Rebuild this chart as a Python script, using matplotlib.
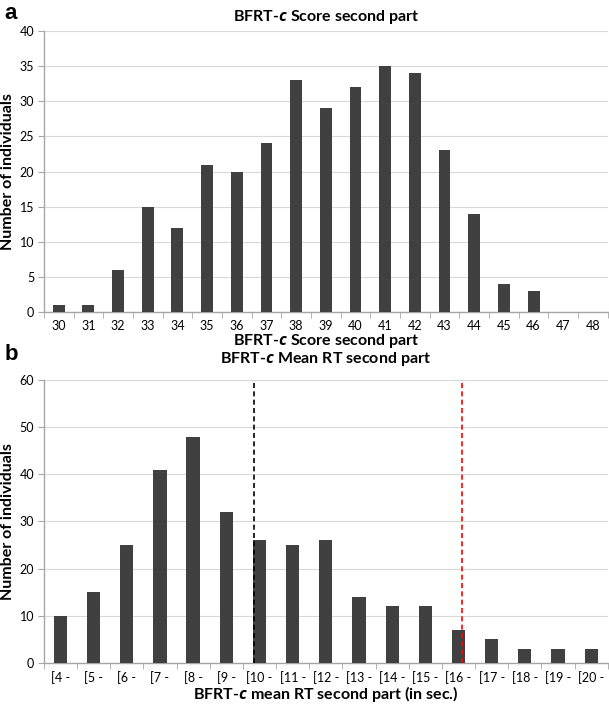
import numpy as np
import matplotlib.pyplot as plt

plt.rcParams['font.family'] = ['Lato', 'DejaVu Sans']
plt.rcParams['mathtext.fontset'] = 'custom'
plt.rcParams['mathtext.it'] = 'Open Sans:italic:bold'
plt.rcParams['mathtext.rm'] = 'Lato:bold'
plt.rcParams['mathtext.bf'] = 'Lato:bold'

# panel a data
scores = [str(s) for s in range(30, 49)]
score_counts = [1, 1, 6, 15, 12, 21, 20, 24, 33, 29, 32, 35, 34, 23, 14, 4, 3, 0, 0]

# panel b data
rt_bins = ["[%d -" % s for s in range(4, 21)]
rt_counts = [10, 15, 25, 41, 48, 32, 26, 25, 26, 14, 12, 12, 7, 5, 3, 3, 3]
mean_line = 5.85   # black dashed line, in category units
cutoff_line = 12.1  # red dashed line

bar_col = '#404040'
spine_col = '#a6a6a6'
grid_col = '#d9d9d9'
lab_fs = 11.5


def style_axes(ax, n, ymax, step):
  ax.set_xlim(-0.5, n - 0.5)
  ax.set_ylim(0, ymax)
  ax.set_yticks(np.arange(0, ymax + 1, step))
  ax.yaxis.grid(True, color=grid_col, lw=0.8)
  ax.set_axisbelow(True)
  for s in ['top', 'right']:
    ax.spines[s].set_visible(False)
  for s in ['left', 'bottom']:
    ax.spines[s].set_color(spine_col)
    ax.spines[s].set_linewidth(1.0)
  ax.set_xticks(np.arange(n))
  ax.set_xticks(np.arange(-0.5, n, 1.0), minor=True)
  ax.tick_params(axis='x', which='major', length=0, labelsize=9, pad=6)
  ax.tick_params(axis='x', which='minor', length=4, color=spine_col, direction='out')
  ax.tick_params(axis='y', length=4, color=spine_col, labelsize=9, pad=3)


fig = plt.figure(figsize=(6.09, 7.05), dpi=100)

# panel a
ax1 = fig.add_axes([0.072, 0.5574, 0.926, 0.3986])
ax1.bar(np.arange(len(scores)), score_counts, width=0.4, color=bar_col, zorder=3)
style_axes(ax1, len(scores), 40, 5)
ax1.set_xticklabels(scores)
ax1.set_title(r"BFRT-$\mathit{c}$ Score second part", fontsize=lab_fs, fontweight='bold', pad=7)
ax1.set_xlabel(r"BFRT-$\mathit{c}$ Score second part", fontsize=lab_fs, fontweight='bold', labelpad=0)
ax1.set_ylabel("Number of individuals", fontsize=lab_fs, fontweight='bold', labelpad=3)
fig.text(0.008, 0.981, "a", fontsize=16, fontweight='bold', family='Liberation Sans', va='center')

# panel b
ax2 = fig.add_axes([0.072, 0.0596, 0.926, 0.4014])
ax2.bar(np.arange(len(rt_bins)), rt_counts, width=0.4, color=bar_col, zorder=3)
style_axes(ax2, len(rt_bins), 60, 10)
ax2.set_xticklabels(rt_bins)
ax2.axvline(mean_line, color='black', ls=(0, (3, 2)), lw=1.2, zorder=4)
ax2.axvline(cutoff_line, color='red', ls=(0, (3, 2)), lw=1.2, zorder=4)
ax2.set_title(r"BFRT-$\mathit{c}$ Mean RT second part", fontsize=lab_fs, fontweight='bold', pad=12)
ax2.set_xlabel(r"BFRT-$\mathit{c}$ mean RT second part (in sec.)", fontsize=lab_fs, fontweight='bold', labelpad=0)
ax2.set_ylabel("Number of individuals", fontsize=lab_fs, fontweight='bold', labelpad=3)
fig.text(0.008, 0.497, "b", fontsize=16, fontweight='bold', family='Liberation Sans', va='center')

plt.savefig("out.png", dpi=100)
